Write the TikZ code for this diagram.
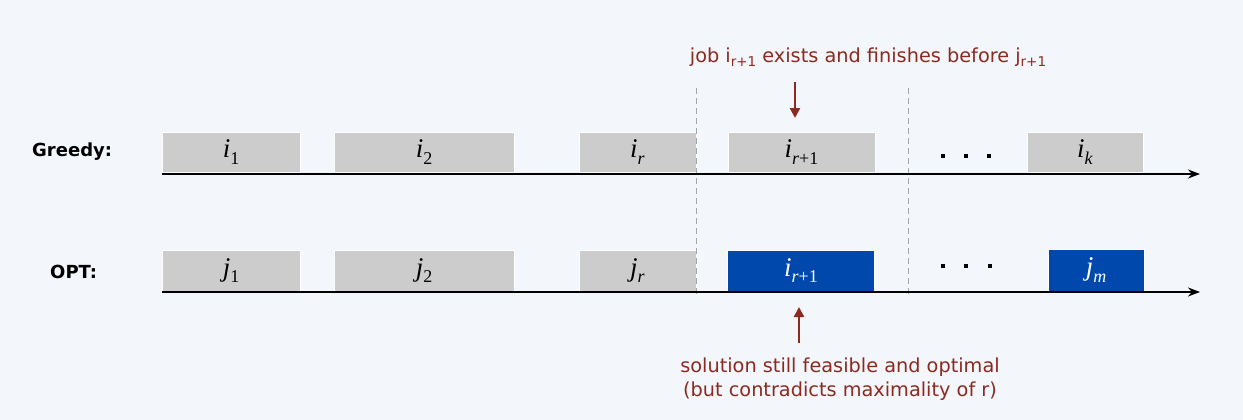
\documentclass[tikz,border=0pt]{standalone}
\usepackage{fontspec}
\setmainfont{Liberation Serif}
\setsansfont{DejaVu Sans}
\usetikzlibrary{arrows.meta}
\definecolor{bgc}{RGB}{243,246,250}
\definecolor{boxgray}{RGB}{204,204,204}
\definecolor{boxblue}{RGB}{0,72,171}
\definecolor{annred}{RGB}{140,42,32}
\definecolor{dashgray}{RGB}{165,165,165}
\newcommand\jl[2]{\textit{#1}\raisebox{-0.5ex}{\fontsize{18}{18}\selectfont #2}}
\newcommand\ssub[1]{\raisebox{-0.4ex}{\fontsize{13.5}{13.5}\selectfont #1}}
\begin{document}
\begin{tikzpicture}[x=1pt,y=-1pt,
  gbox/.style={fill=boxgray,draw=white,line width=0.8pt,inner sep=0pt,font=\fontsize{27}{27}\selectfont},
  bbox/.style={fill=boxblue,draw=white,line width=0.8pt,inner sep=0pt,text=white,font=\fontsize{27}{27}\selectfont},
  rowlbl/.style={font=\sffamily\bfseries\fontsize{18}{18}\selectfont,anchor=west,inner sep=0pt},
  ann/.style={text=annred,font=\sffamily\fontsize{19.3}{24}\selectfont,align=center,inner sep=0pt},
  axis/.style={line width=1.8pt,-{Stealth[length=12pt,width=9pt]}},
  annarrow/.style={annred,line width=2.2pt,-{Triangle[length=10pt,width=10pt]}},
  sep/.style={dashgray,line width=0.9pt,dash pattern=on 6pt off 4pt},
  dotn/.style={fill=black,minimum size=4.5pt,inner sep=0pt}
]
\fill[bgc] (0,0) rectangle (1243,420);
\useasboundingbox (0,0) rectangle (1243,420);

% row labels
\node[rowlbl] (greedy) at (32,152) {Greedy:};
\node[rowlbl] (opt) at (50,272) {OPT:};

% Greedy boxes
\node[gbox,minimum width=138pt,minimum height=40pt] (g1) at (231,152) {\jl{i}{1}};
\node[gbox,minimum width=180pt,minimum height=40pt] (g2) at (424,152) {\jl{i}{2}};
\node[gbox,minimum width=117pt,minimum height=40pt] (gr) at (637.5,152) {\jl{i}{\textit{r}}};
\node[gbox,minimum width=147pt,minimum height=40pt] (gr1) at (801.5,152) {\jl{i}{\textit{r}+1}};
\node[gbox,minimum width=116pt,minimum height=40pt] (gk) at (1085,152) {\jl{i}{\textit{k}}};

% OPT boxes
\node[gbox,minimum width=138pt,minimum height=41pt] (o1) at (231,270.5) {\jl{j}{1}};
\node[gbox,minimum width=180pt,minimum height=41pt] (o2) at (424,270.5) {\jl{j}{2}};
\node[gbox,minimum width=117pt,minimum height=41pt] (or) at (637.5,270.5) {\jl{j}{\textit{r}}};
\node[bbox,minimum width=147pt,minimum height=41pt] (or1) at (801,270.5) {\jl{i}{\textit{r}+1}};
\node[bbox,minimum width=96pt,minimum height=42pt] (om) at (1096,270) {\jl{j}{\textit{m}}};

% dashed separators
\coordinate (s1t) at (696,88); \coordinate (s1b) at (696,296);
\coordinate (s2t) at (908,88); \coordinate (s2b) at (908,296);
\draw[sep] (s1t) -- (s1b);
\draw[sep] (s2t) -- (s2b);

% dots
\node[dotn] (gd1) at (943,156) {}; \node[dotn] (gd2) at (966,156) {}; \node[dotn] (gd3) at (989,156) {};
\node[dotn] (od1) at (943,266) {}; \node[dotn] (od2) at (966,266) {}; \node[dotn] (od3) at (990,266) {};

% axes
\coordinate (ga0) at (162,174); \coordinate (ga1) at (1200,174);
\coordinate (oa0) at (162,292); \coordinate (oa1) at (1200,292);
\draw[axis] (ga0) -- (ga1);
\draw[axis] (oa0) -- (oa1);

% annotations
\node[ann] (top) at (868,57) {job i\ssub{r+1} exists and finishes before j\ssub{r+1}};
\coordinate (t1) at (795,82); \coordinate (t2) at (795,118);
\draw[annarrow] (t1) -- (t2);

\node[ann] (bot) at (840,379) {solution still feasible and optimal\\(but contradicts maximality of r)};
\coordinate (b1) at (799,343); \coordinate (b2) at (799,307);
\draw[annarrow] (b1) -- (b2);
\end{tikzpicture}
\end{document}
